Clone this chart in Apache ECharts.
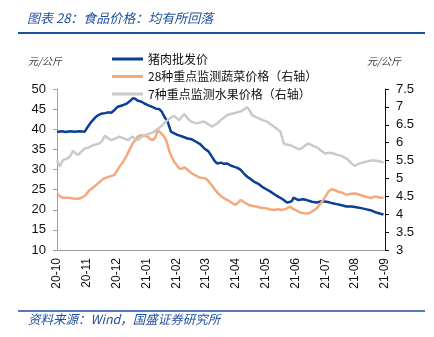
<!DOCTYPE html>
<html>
<head>
<meta charset="utf-8">
<script src="https://cdn.jsdelivr.net/npm/echarts@6/dist/echarts.min.js"></script>
<style>
  html, body { margin: 0; padding: 0; background: #fff; }
  #chart { width: 434px; height: 337px; }
</style>
</head>
<body>
<div id="chart"></div>
<script>
// Month tick labels (x position = months since 2020-10)
const monthLabels = ['20-10','20-11','20-12','21-01','21-02','21-03','21-04','21-05','21-06','21-07','21-08','21-09'];

// 猪肉批发价 (元/公斤, left axis)
const porkX = [0,0.15,0.3,0.45,0.6,0.75,0.93,1.05,1.16,1.28,1.38,1.5,1.6,1.72,1.82,1.93,2.04,2.18,2.32,2.45,2.54,2.62,2.71,2.82,2.93,3.05,3.21,3.32,3.43,3.52,3.6,3.71,3.82,3.93,4.04,4.2,4.38,4.52,4.66,4.8,4.93,5.08,5.21,5.3,5.38,5.49,5.6,5.71,5.82,5.93,6.05,6.16,6.27,6.38,6.5,6.6,6.74,6.88,7.02,7.16,7.3,7.43,7.57,7.71,7.8,7.88,7.93,7.99,8.1,8.25,8.38,8.55,8.71,8.88,9.04,9.2,9.38,9.55,9.71,9.88,10.04,10.2,10.38,10.55,10.71,10.85,10.95];
const porkY = [39.3,39.5,39.3,39.5,39.4,39.5,39.4,40.8,41.9,42.9,43.5,43.9,44.0,44.2,44.1,44.8,45.6,45.9,46.3,47.0,47.7,47.6,47.1,46.9,46.4,46.0,45.5,45.1,45.0,44.3,43.1,41.9,39.4,39.0,38.6,38.2,37.7,37.5,36.9,36.3,35.3,34.5,33.0,32.0,31.5,31.7,31.4,31.5,31.0,30.7,30.4,29.9,29.0,28.2,27.6,27.0,26.5,25.7,25.1,24.5,23.8,23.2,22.6,21.8,21.9,22.2,23.0,22.8,22.4,22.6,22.4,22.0,21.8,22.1,22.0,21.7,21.4,21.1,20.8,20.8,20.6,20.4,20.1,19.8,19.3,19.0,18.8];

// 28种重点监测蔬菜价格 (元/公斤, right axis)
const vegX = [0,0.1,0.2,0.38,0.55,0.71,0.82,0.93,1.0,1.1,1.2,1.32,1.43,1.54,1.68,1.82,1.93,2.0,2.1,2.2,2.32,2.43,2.54,2.63,2.71,2.82,2.93,3.04,3.12,3.21,3.3,3.38,3.49,3.58,3.66,3.72,3.77,3.85,3.93,4.02,4.1,4.18,4.27,4.38,4.49,4.63,4.77,4.88,4.99,5.1,5.21,5.3,5.38,5.49,5.63,5.77,5.88,5.99,6.08,6.16,6.3,6.43,6.57,6.71,6.85,6.99,7.13,7.27,7.4,7.54,7.68,7.82,7.93,8.04,8.15,8.27,8.38,8.49,8.6,8.71,8.82,8.93,9.02,9.1,9.21,9.32,9.43,9.57,9.71,9.85,9.99,10.13,10.27,10.4,10.54,10.63,10.71,10.85,10.95];
const vegY = [4.58,4.5,4.46,4.46,4.44,4.43,4.46,4.51,4.58,4.68,4.74,4.82,4.9,4.98,5.03,5.07,5.10,5.2,5.33,5.45,5.61,5.8,5.98,6.08,6.17,6.21,6.19,6.17,6.1,6.07,6.15,6.35,6.26,6.18,6.07,5.9,5.75,5.6,5.47,5.37,5.28,5.27,5.31,5.24,5.16,5.09,5.03,5.01,5.0,4.9,4.79,4.68,4.6,4.51,4.43,4.37,4.31,4.26,4.33,4.40,4.32,4.26,4.23,4.21,4.18,4.17,4.14,4.12,4.14,4.12,4.15,4.21,4.14,4.10,4.05,4.03,4.02,4.04,4.1,4.17,4.28,4.40,4.52,4.63,4.70,4.67,4.63,4.6,4.54,4.57,4.58,4.55,4.51,4.48,4.45,4.49,4.49,4.46,4.47];

// 7种重点监测水果价格 (元/公斤, right axis)
const fruitX = [0,0.05,0.1,0.16,0.21,0.32,0.43,0.54,0.62,0.71,0.82,0.93,1.05,1.16,1.3,1.43,1.52,1.6,1.72,1.82,1.96,2.1,2.24,2.38,2.46,2.54,2.63,2.71,2.82,2.93,3.07,3.21,3.35,3.49,3.6,3.71,3.82,3.93,4.02,4.1,4.18,4.27,4.38,4.49,4.6,4.71,4.82,4.93,5.07,5.21,5.3,5.38,5.49,5.6,5.71,5.82,5.93,6.05,6.16,6.27,6.38,6.46,6.54,6.65,6.77,6.9,7.04,7.15,7.27,7.38,7.49,7.55,7.6,7.7,7.82,7.93,8.04,8.12,8.21,8.32,8.43,8.57,8.71,8.85,8.99,9.13,9.27,9.4,9.54,9.65,9.77,9.88,9.99,10.08,10.16,10.27,10.38,10.52,10.66,10.8,10.95];
const fruitY = [5.50,5.45,5.33,5.45,5.52,5.55,5.61,5.77,5.70,5.66,5.75,5.84,5.86,5.91,5.95,5.98,6.05,6.19,6.12,6.07,6.12,6.17,6.12,6.07,6.12,6.17,6.1,6.07,6.15,6.21,6.24,6.28,6.37,6.45,6.55,6.63,6.70,6.75,6.68,6.63,6.72,6.80,6.68,6.59,6.56,6.54,6.57,6.59,6.52,6.45,6.5,6.54,6.63,6.7,6.77,6.80,6.82,6.85,6.87,6.93,6.99,6.9,6.77,6.72,6.68,6.63,6.59,6.52,6.45,6.38,6.31,6.15,5.98,5.95,5.93,5.89,5.84,5.82,5.84,5.92,5.98,5.92,5.87,5.78,5.70,5.72,5.70,5.66,5.63,5.58,5.52,5.42,5.35,5.4,5.42,5.45,5.47,5.5,5.50,5.48,5.44];

const zip = (xs, ys) => xs.map((x, i) => [x, ys[i]]);

const BRAND = '#1f4e9e';
const NUM_FONT = '"Liberation Sans", Arial, sans-serif';
const CJK_FONT = '"Noto Sans CJK SC", sans-serif';

const chart = echarts.init(document.getElementById('chart'), null, { renderer: 'canvas' });

chart.setOption({
  animation: false,
  backgroundColor: '#fff',
  grid: { left: 57, right: 49, top: 89, bottom: 87, containLabel: false },
  legend: {
    orient: 'vertical',
    left: 107,
    top: 47,
    itemWidth: 31,
    itemHeight: 3,
    itemGap: 3.5,
    icon: 'rect',
    textStyle: { fontFamily: CJK_FONT, fontSize: 12, color: '#111', lineHeight: 14, padding: [0, 0, 0, 0] },
    data: ['猪肉批发价', '28种重点监测蔬菜价格（右轴）', '7种重点监测水果价格（右轴）']
  },
  xAxis: {
    type: 'value',
    min: 0,
    max: 11,
    interval: 1,
    splitLine: { show: false },
    axisLine: { lineStyle: { color: '#a0a0a0', width: 1 } },
    axisTick: { show: false },
    axisLabel: {
      rotate: 90,
      margin: 8,
      fontFamily: NUM_FONT,
      fontSize: 12,
      color: '#111',
      formatter: v => monthLabels[Math.round(v)] || ''
    }
  },
  yAxis: [
    {
      type: 'value',
      min: 10,
      max: 50,
      interval: 5,
      position: 'left',
      splitLine: { show: false },
      axisLine: { show: true, lineStyle: { color: '#a0a0a0', width: 1 } },
      axisTick: { show: true, inside: false, length: 4, lineStyle: { color: '#a0a0a0' } },
      axisLabel: { fontFamily: NUM_FONT, fontSize: 13, color: '#111', margin: 11 }
    },
    {
      type: 'value',
      min: 3,
      max: 7.5,
      interval: 0.5,
      position: 'right',
      splitLine: { show: false },
      axisLine: { show: true, lineStyle: { color: '#111', width: 1 } },
      axisTick: { show: true, inside: false, length: 4, lineStyle: { color: '#111' } },
      axisLabel: { fontFamily: NUM_FONT, fontSize: 13, color: '#111', margin: 11 }
    }
  ],
  series: [
    {
      name: '猪肉批发价',
      type: 'line',
      yAxisIndex: 0,
      showSymbol: false,
      color: '#0a3f96',
      lineStyle: { width: 2.5, color: '#0a3f96' },
      data: zip(porkX, porkY)
    },
    {
      name: '28种重点监测蔬菜价格（右轴）',
      type: 'line',
      yAxisIndex: 1,
      showSymbol: false,
      color: '#f4a87c',
      lineStyle: { width: 2.5, color: '#f4a87c' },
      data: zip(vegX, vegY)
    },
    {
      name: '7种重点监测水果价格（右轴）',
      type: 'line',
      yAxisIndex: 1,
      showSymbol: false,
      color: '#cacaca',
      lineStyle: { width: 2.5, color: '#cacaca' },
      data: zip(fruitX, fruitY)
    }
  ],
  graphic: [
    { type: 'text', left: 27, top: 12,
      style: { text: '图表 28：食品价格：均有所回落', fill: BRAND, font: 'italic 13px "Noto Sans CJK SC", sans-serif' } },
    { type: 'line', shape: { x1: 18, y1: 33, x2: 425, y2: 33 }, style: { stroke: BRAND, lineWidth: 2 } },
    { type: 'text', left: 28, top: 56,
      style: { text: '元/公斤', fill: '#333', font: 'italic 10px "Noto Sans CJK SC", sans-serif' } },
    { type: 'text', left: 367, top: 56,
      style: { text: '元/公斤', fill: '#333', font: 'italic 10px "Noto Sans CJK SC", sans-serif' } },
    { type: 'line', shape: { x1: 18, y1: 311, x2: 425, y2: 311 }, style: { stroke: BRAND, lineWidth: 1.5 } },
    { type: 'text', left: 28, top: 313,
      style: { text: '资料来源：Wind，国盛证券研究所', fill: BRAND, font: 'italic 12.5px "Noto Sans CJK SC", sans-serif' } }
  ]
});
</script>
</body>
</html>
